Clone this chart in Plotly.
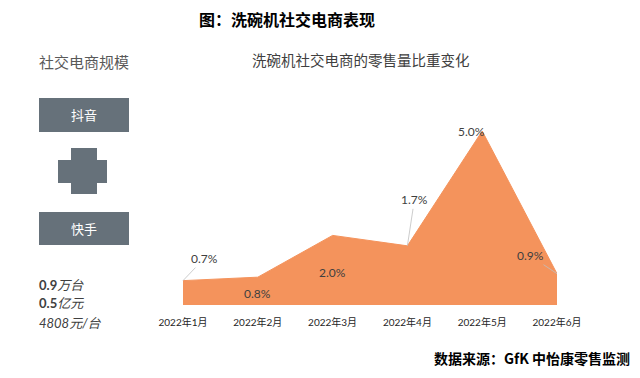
import plotly.graph_objects as go

months = ["2022年1月", "2022年2月", "2022年3月", "2022年4月", "2022年5月", "2022年6月"]
share = [0.7, 0.8, 2.0, 1.7, 5.0, 0.9]
share_labels = ["0.7%", "0.8%", "2.0%", "1.7%", "5.0%", "0.9%"]

# page body has an 8px margin; figure is sized so it fits the 640x378 window
OFF = 8
W, H = 640 - 2 * OFF, 378 - 2 * OFF
def px(x):
    return (x - OFF) / W
def py(y):
    return 1 - (y - OFF) / H

ORANGE = "#F4935C"
SLATE = "#66717A"
CJK = "Noto Sans CJK SC"
NUM = "Lato, Noto Sans CJK SC"

fig = go.Figure()
fig.add_trace(go.Scatter(
    x=list(range(len(months))), y=share, mode="lines", fill="tozeroy",
    line=dict(color=ORANGE, width=1), fillcolor=ORANGE, hoverinfo="skip",
    showlegend=False,
))

label_style = [
    dict(arrow=True, ax=21, ay=-22),
    dict(arrow=False, yshift=-16, xshift=0),
    dict(arrow=False, yshift=-37, xshift=0),
    dict(arrow=True, ax=7, ay=-46),
    dict(arrow=False, yshift=0, xshift=-11),
    dict(arrow=True, ax=-27, ay=-18),
]
annotations = []
for i, (v, lab, st) in enumerate(zip(share, share_labels, label_style)):
    a = dict(x=i, y=v, xref="x", yref="y", text=lab,
             xanchor="center", yanchor="middle",
             font=dict(family=NUM, size=12, color="#404040"))
    if st["arrow"]:
        a.update(showarrow=True, ax=st["ax"], ay=st["ay"], arrowhead=0,
                 arrowwidth=0.8, arrowcolor="#BFBFBF", standoff=0, startstandoff=0)
    else:
        a.update(showarrow=False, xshift=st["xshift"], yshift=st["yshift"])
    annotations.append(a)

def txt(x, y, text, size, color, family=CJK, xanchor="center"):
    return dict(x=px(x), y=py(y), xref="paper", yref="paper", showarrow=False,
                xanchor=xanchor, yanchor="middle", text=text, borderpad=0,
                font=dict(family=family, size=size, color=color))

annotations += [
    txt(287, 18.5, "<b>图：洗碗机社交电商表现</b>", 16, "#000000"),
    txt(361, 60, "洗碗机社交电商的零售量比重变化", 14.5, "#404040"),
    txt(38, 61, "社交电商规模", 15, "#595959", xanchor="left"),
    txt(84, 115, "抖音", 13, "#FFFFFF"),
    txt(84, 228, "快手", 13, "#FFFFFF"),
    txt(38, 285, "<b>0.9</b><i>万台</i>", 13, "#404040", family=NUM, xanchor="left"),
    txt(38, 303, "<b>0.5</b><i>亿元</i>", 13, "#404040", family=NUM, xanchor="left"),
    txt(38, 323, "<i>4808元/台</i>", 13, "#404040", family=NUM, xanchor="left"),
    txt(631, 358, "<b>数据来源：GfK 中怡康零售监测</b>", 14, "#000000", xanchor="right"),
]

def rect(x0, y0, x1, y1):
    return dict(type="rect", xref="paper", yref="paper", x0=px(x0), x1=px(x1),
                y0=py(y1), y1=py(y0), fillcolor=SLATE, line=dict(width=0), layer="below")

shapes = [
    rect(39, 98, 129, 132),
    rect(39, 212, 129, 245),
    rect(71, 148, 97, 194),
    rect(58, 160, 107, 183),
]

fig.update_layout(
    width=W, height=H, margin=dict(l=0, r=0, t=0, b=0),
    paper_bgcolor="white", plot_bgcolor="white",
    annotations=annotations, shapes=shapes,
    xaxis=dict(domain=[px(183), px(557)], range=[0, 5], tickmode="array",
               tickvals=list(range(len(months))), ticktext=months,
               showgrid=False, zeroline=False, showline=False,
               ticks="outside", ticklen=8, tickcolor="rgba(0,0,0,0)",
               tickfont=dict(family=NUM, size=10, color="#262626"), automargin=False),
    yaxis=dict(domain=[py(305), py(305 - 5.3 * 34.8)], range=[0, 5.3], visible=False,
               showgrid=False, zeroline=False),
)

fig.write_html("out.html")
